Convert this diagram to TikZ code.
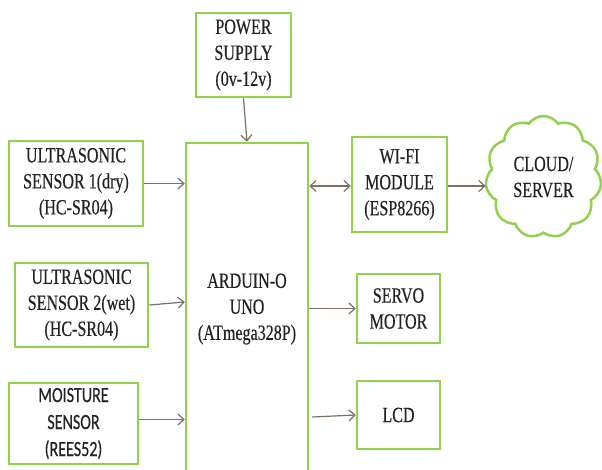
\documentclass[tikz,border=0pt]{standalone}
\usepackage{fontspec}
\setmainfont{Liberation Serif}[FakeStretch=0.74,FakeBold=0.35]
\newfontfamily\sansf{Carlito}[FakeStretch=0.74,FakeBold=0.35]
\usetikzlibrary{arrows.meta,shapes.symbols}
\definecolor{boxgreen}{RGB}{146,208,80}
\definecolor{arrowc}{RGB}{125,112,100}
\definecolor{txt}{RGB}{35,35,35}
\tikzset{
  blk/.style={draw=boxgreen, line width=2.5pt, fill=white, inner sep=0pt, align=center,
    text=txt, font=\rmfamily\fontsize{21.7}{26}\selectfont},
  conn/.style={draw=arrowc, line width=1.2pt, -{Straight Barb[length=6pt,width=11pt]}},
  bconn/.style={draw=arrowc, line width=1.2pt, {Straight Barb[length=6pt,width=11pt]}-{Straight Barb[length=6pt,width=11pt]}}
}
\begin{document}
\begin{tikzpicture}[x=1pt,y=-1pt]
\useasboundingbox[fill=white] (0,0) rectangle (602,470);
\node[blk, minimum width=95pt, minimum height=84pt] (ps) at (243.5,55) {POWER\\SUPPLY\\(0v-12v)};
\node[blk, minimum width=122pt, minimum height=332pt] (ard) at (247,309) {ARDUIN-O\\UNO\\(ATmega328P)};
\node[blk, minimum width=134pt, minimum height=85pt] (u1) at (76,183.5) {ULTRASONIC\\SENSOR 1(dry)\\(HC-SR04)};
\node[blk, minimum width=133pt, minimum height=84pt] (u2) at (81.5,305) {ULTRASONIC\\SENSOR 2(wet)\\(HC-SR04)};
\node[blk, minimum width=129pt, minimum height=81pt, font=\sansf\fontsize{21.7}{27}\selectfont] (m) at (73.5,423.5) {MOISTURE\\SENSOR\\(REES52)};
\node[blk, minimum width=95pt, minimum height=95pt] (wifi) at (399.5,184.5) {WI-FI\\MODULE\\(ESP8266)};
\node[blk, minimum width=83pt, minimum height=69pt] (servo) at (398.5,308.5) {SERVO\\MOTOR};
\node[blk, minimum width=83pt, minimum height=68pt] (lcd) at (398.5,415) {LCD};
\node[blk, cloud, cloud puffs=11, cloud puff arc=110, aspect=0.95, minimum width=116pt, minimum height=122pt] (cloud) at (543.5,177) {CLOUD/\\SERVER};
\draw[conn] (ps.south) -- (ard.north);
\draw[conn] (u1.east) -- (u1.east -| ard.west);
\draw[conn] (u2.east) -- ([yshift=3pt]u2.east -| ard.west);
\draw[conn] ([yshift=4pt]m.east) -- ([yshift=4pt]m.east -| ard.west);
\draw[bconn] ([yshift=-1.5pt]ard.east |- wifi.west) -- ([yshift=-1.5pt]wifi.west);
\draw[conn] ([yshift=-1.5pt]wifi.east) -- ([yshift=-1.5pt]wifi.east -| cloud.west);
\draw[conn] (ard.east |- servo.west) -- (servo.west);
\draw[conn] ([xshift=3pt,yshift=-2pt]ard.east |- lcd.west) -- (lcd.west);
\end{tikzpicture}
\end{document}
